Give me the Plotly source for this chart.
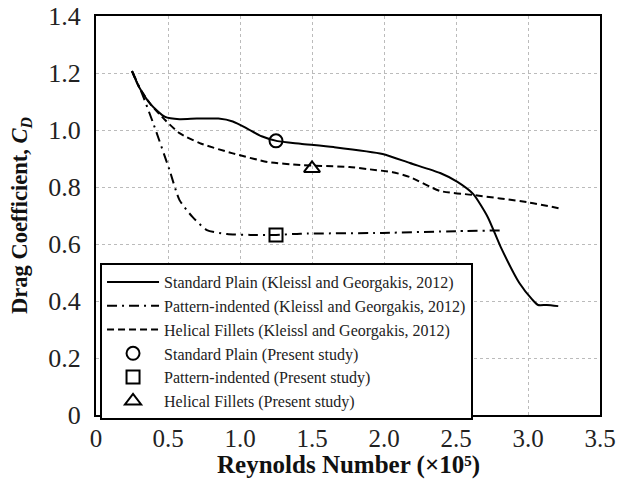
import plotly.graph_objects as go

# Standard Plain (Kleissl and Georgakis, 2012)
sp_x = [0.25, 0.30, 0.38, 0.48, 0.58, 0.70, 0.85, 0.95, 1.05, 1.15, 1.26, 1.42, 1.65, 1.99, 2.18, 2.39, 2.51, 2.62, 2.72, 2.81, 2.94, 3.03, 3.07, 3.13, 3.21]
sp_y = [1.207, 1.15, 1.09, 1.046, 1.038, 1.040, 1.040, 1.030, 1.005, 0.978, 0.961, 0.952, 0.940, 0.916, 0.884, 0.849, 0.818, 0.775, 0.695, 0.590, 0.463, 0.405, 0.386, 0.386, 0.382]

# Pattern-indented (Kleissl and Georgakis, 2012)
pi_x = [0.25, 0.31, 0.40, 0.51, 0.58, 0.67, 0.77, 0.91, 1.07, 1.25, 1.42, 1.99, 2.50, 2.83]
pi_y = [1.207, 1.14, 1.02, 0.86, 0.754, 0.695, 0.649, 0.635, 0.632, 0.632, 0.636, 0.639, 0.645, 0.648]

# Helical Fillets (Kleissl and Georgakis, 2012)
hf_x = [0.25, 0.30, 0.38, 0.48, 0.58, 0.72, 0.95, 1.19, 1.42, 1.76, 1.90, 2.06, 2.18, 2.39, 2.62, 2.99, 3.24]
hf_y = [1.207, 1.15, 1.09, 1.035, 0.989, 0.954, 0.918, 0.888, 0.877, 0.870, 0.862, 0.852, 0.835, 0.786, 0.772, 0.747, 0.723]

# Present study points
ps_sp_x = [1.25]; ps_sp_y = [0.962]
ps_pi_x = [1.25]; ps_pi_y = [0.632]
ps_hf_x = [1.50]; ps_hf_y = [0.865]

x_ticks = [0, 0.5, 1.0, 1.5, 2.0, 2.5, 3.0, 3.5]
x_ticklabels = ["0", "0.5", "1.0", "1.5", "2.0", "2.5", "3.0", "3.5"]
y_ticks = [0, 0.2, 0.4, 0.6, 0.8, 1.0, 1.2, 1.4]
y_ticklabels = ["0", "0.2", "0.4", "0.6", "0.8", "1.0", "1.2", "1.4"]

x_title = "<b>Reynolds Number (×10⁵)</b>"
y_title = "<b>Drag Coefficient, <i>C<sub>D</sub></i></b>"

serif = "Liberation Serif"

fig = go.Figure()
fig.add_trace(go.Scatter(x=sp_x, y=sp_y, mode="lines", line=dict(color="black", width=2, shape="spline", smoothing=0.6),
                         name="Standard Plain (Kleissl and Georgakis, 2012)"))
fig.add_trace(go.Scatter(x=pi_x, y=pi_y, mode="lines", line=dict(color="black", width=2, dash="10px,5px,2px,5px", shape="spline", smoothing=0.6),
                         name="Pattern-indented (Kleissl and Georgakis, 2012)"))
fig.add_trace(go.Scatter(x=hf_x, y=hf_y, mode="lines", line=dict(color="black", width=2, dash="7px,4px", shape="spline", smoothing=0.6),
                         name="Helical Fillets (Kleissl and Georgakis, 2012)"))
fig.add_trace(go.Scatter(x=ps_sp_x, y=ps_sp_y, mode="markers",
                         marker=dict(symbol="circle-open", size=13, color="black", line=dict(width=2)),
                         name="Standard Plain (Present study)"))
fig.add_trace(go.Scatter(x=ps_pi_x, y=ps_pi_y, mode="markers",
                         marker=dict(symbol="square-open", size=13, color="black", line=dict(width=2)),
                         name="Pattern-indented (Present study)"))
fig.add_trace(go.Scatter(x=ps_hf_x, y=ps_hf_y, mode="markers",
                         marker=dict(symbol="triangle-up-open", size=14, color="black", line=dict(width=2)),
                         name="Helical Fillets (Present study)"))

fig.update_layout(
    width=617, height=482,
    margin=dict(l=96, r=17, t=16, b=67),
    paper_bgcolor="white", plot_bgcolor="white",
    font=dict(family=serif, color="black"),
    showlegend=True,
    legend=dict(x=0.008, y=0.381, xanchor="left", yanchor="top",
                bgcolor="white", bordercolor="black", borderwidth=2,
                font=dict(family=serif, size=16, color="#222"),
                tracegroupgap=0, itemwidth=52),
    xaxis=dict(range=[0, 3.5], tickvals=x_ticks, ticktext=x_ticklabels, automargin=False,
               showgrid=True, gridcolor="#bbbbbb", griddash="dot", gridwidth=1,
               showline=True, linecolor="black", linewidth=2, mirror=True,
               ticks="", zeroline=False, ticklabelstandoff=0,
               tickfont=dict(family=serif, size=25, color="#222")),
    yaxis=dict(range=[0, 1.4], tickvals=y_ticks, ticktext=y_ticklabels, automargin=False,
               showgrid=True, gridcolor="#bbbbbb", griddash="dot", gridwidth=1,
               showline=True, linecolor="black", linewidth=2, mirror=True,
               ticks="", zeroline=False, ticklabelstandoff=8,
               tickfont=dict(family=serif, size=26, color="#222"),
               title=dict(text=y_title, font=dict(family=serif, size=22.5, color="#111"), standoff=14)),
    annotations=[dict(text=x_title, xref="paper", yref="paper", x=0.5, y=-0.125,
                      xanchor="center", yanchor="middle", showarrow=False,
                      font=dict(family=serif, size=25, color="#111"))],
)

fig.write_html("out.html")
